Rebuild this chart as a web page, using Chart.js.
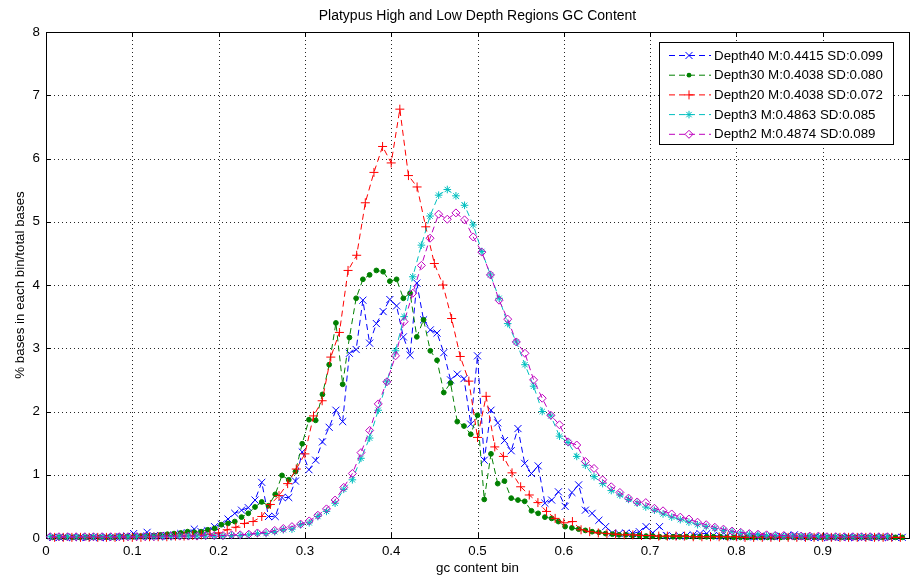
<!DOCTYPE html>
<html><head><meta charset="utf-8">
<script src="https://cdn.jsdelivr.net/npm/chart.js@4.4.1/dist/chart.umd.min.js"></script>
<style>html,body{margin:0;padding:0;overflow:hidden;background:#fff}canvas{display:block}</style>
</head><body>
<canvas id="c" width="915" height="581"></canvas>
<script>
// ---------- text ----------
const chartTitle = 'Platypus High and Low Depth Regions GC Content';
const xTitle = 'gc content bin';
const yTitle = '% bases in each bin/total bases';
const seriesNames = [
  'Depth40 M:0.4415 SD:0.099',
  'Depth30 M:0.4038 SD:0.080',
  'Depth20 M:0.4038 SD:0.072',
  'Depth3 M:0.4863 SD:0.085',
  'Depth2 M:0.4874 SD:0.089'
];
const xTicks = [0, 0.1, 0.2, 0.3, 0.4, 0.5, 0.6, 0.7, 0.8, 0.9, 1];
const yTicks = [0, 1, 2, 3, 4, 5, 6, 7, 8];

// ---------- bins ----------
const fineBinCount = 128;   // Depth40 / Depth30 bins: k/128
const coarseBinCount = 100; // Depth20: i/100 ; Depth3 / Depth2: (j+0.5)/100

// ---------- values (% bases) ----------
const depth40 = [
 0.01,0.01,0.01,0.01,0.01,0.01,0.01,0.01,0.01,0.01,
 0.02,0.03,0.07,0.03,0.09,0.03,0.04,0.03,0.05,0.07,
 0.08,0.14,0.10,0.12,0.18,0.22,0.30,0.39,0.44,0.48,
 0.60,0.88,0.34,0.34,0.64,0.64,0.90,1.36,1.08,1.23,
 1.52,1.75,2.02,1.84,2.92,2.98,3.76,3.08,3.39,3.58,
 3.77,3.67,3.18,2.89,4.03,3.45,3.29,3.24,2.93,2.50,
 2.59,2.52,1.80,2.88,1.23,2.02,1.82,1.54,1.38,1.73,
 1.18,1.02,1.14,0.55,0.60,0.73,0.50,0.72,0.84,0.44,
 0.39,0.28,0.18,0.08,0.07,0.08,0.07,0.10,0.18,0.08,
 0.18,0.04,0.03,0.03,0.04,0.05,0.07,0.07,0.04,0.03,
 0.03,0.02,0.03,0.02,0.02,0.03,0.02,0.02,0.03,0.04,
 0.05,0.02,0.01,0.01,0.01,0.01,0.01,0.01,0.01,0.01,
 0.01,0.01,0.01,0.01,0.01,0.01,0.01
];
const depth30 = [
 0.01,0.01,0.01,0.01,0.01,0.01,0.01,0.01,0.01,0.01,
 0.02,0.02,0.02,0.03,0.03,0.04,0.05,0.06,0.07,0.08,
 0.10,0.09,0.10,0.13,0.15,0.21,0.23,0.26,0.33,0.39,
 0.49,0.57,0.51,0.69,0.99,0.92,1.05,1.49,1.87,1.86,
 2.27,2.74,3.40,2.43,3.17,3.79,4.09,4.16,4.23,4.21,
 4.06,4.09,3.79,3.87,3.18,3.45,2.96,2.81,2.30,2.45,
 1.84,1.77,1.64,1.94,0.61,1.33,0.86,0.90,0.63,0.60,
 0.58,0.43,0.39,0.33,0.31,0.26,0.18,0.16,0.14,0.12,
 0.10,0.09,0.07,0.06,0.05,0.05,0.04,0.04,0.03,0.03,
 0.02,0.02,0.02,0.02,0.02,0.02,0.02,0.02,0.02,0.02,
 0.01,0.01,0.01,0.01,0.01,0.01,0.01,0.01,0.01,0.01,
 0.01,0.01,0.01,0.01,0.01,0.01,0.01,0.01,0.01,0.01,
 0.01,0.01,0.01,0.01,0.01,0.01,0.01
];
const depth20 = [
 0.01,0.01,0.01,0.01,0.01,0.01,0.01,0.01,0.01,0.01,
 0.01,0.02,0.02,0.02,0.03,0.03,0.04,0.05,0.06,0.08,
 0.13,0.17,0.23,0.26,0.34,0.53,0.67,0.86,1.09,1.33,
 1.93,2.17,2.86,3.25,4.23,4.47,5.30,5.78,6.19,5.93,
 6.78,5.73,5.55,4.92,4.34,4.00,3.47,2.87,2.48,1.59,
 2.24,1.44,1.29,1.03,0.81,0.68,0.56,0.42,0.31,0.24,
 0.26,0.13,0.10,0.08,0.07,0.06,0.05,0.05,0.04,0.04,
 0.03,0.03,0.03,0.03,0.02,0.02,0.02,0.02,0.02,0.02,
 0.01,0.01,0.01,0.01,0.01,0.01,0.01,0.01,0.01,0.01,
 0.01,0.01,0.01,0.01,0.01,0.01,0.01,0.01,0.01
];
const depth3 = [
 0.02,0.02,0.02,0.02,0.02,0.02,0.02,0.02,0.02,0.02,
 0.02,0.02,0.02,0.02,0.02,0.03,0.03,0.03,0.03,0.03,
 0.03,0.04,0.04,0.05,0.07,0.07,0.10,0.13,0.14,0.21,
 0.24,0.34,0.42,0.55,0.77,0.92,1.26,1.58,2.02,2.47,
 2.96,3.50,4.13,4.63,5.09,5.42,5.51,5.41,5.26,4.95,
 4.53,4.16,3.79,3.39,3.10,2.74,2.40,2.00,1.93,1.61,
 1.51,1.29,1.15,0.97,0.86,0.75,0.68,0.61,0.55,0.49,
 0.44,0.38,0.33,0.29,0.25,0.21,0.18,0.15,0.12,0.10,
 0.08,0.06,0.05,0.04,0.04,0.03,0.03,0.03,0.03,0.02,
 0.02,0.02,0.02,0.02,0.02,0.02,0.02,0.02
];
const depth2 = [
 0.02,0.02,0.02,0.02,0.02,0.02,0.02,0.02,0.02,0.02,
 0.02,0.02,0.02,0.03,0.03,0.03,0.03,0.03,0.04,0.04,
 0.04,0.05,0.05,0.06,0.08,0.09,0.12,0.15,0.18,0.22,
 0.27,0.36,0.46,0.60,0.80,1.02,1.35,1.70,2.12,2.47,
 2.88,3.42,3.87,4.31,4.74,5.12,5.04,5.14,5.03,4.76,
 4.52,4.16,3.76,3.46,3.10,2.92,2.50,2.21,1.94,1.79,
 1.52,1.47,1.21,1.10,0.92,0.81,0.72,0.63,0.57,0.56,
 0.47,0.43,0.38,0.33,0.30,0.25,0.21,0.17,0.14,0.11,
 0.09,0.07,0.06,0.05,0.04,0.04,0.03,0.03,0.03,0.03,
 0.02,0.02,0.02,0.02,0.02,0.02,0.02,0.02
];

// ---------- styling ----------
const FONT = '"Liberation Sans", Arial, Helvetica, sans-serif';
const FSIZE = 13.33;
const TITLE_SIZE = 14;
Chart.defaults.font.family = FONT;
Chart.defaults.font.size = FSIZE;
Chart.defaults.color = '#000';

const styles = [
  {color:'#0000ff', point:'crossRot', r:5,   filled:false},
  {color:'#008000', point:'circle',   r:2.4, filled:true},
  {color:'#ff0000', point:'cross',    r:4.5, filled:false},
  {color:'#00bfbf', point:'star',     r:3.8, filled:false},
  {color:'#bf00bf', point:'rectRot',  r:4,   filled:false}
];
const seriesValues = [depth40, depth30, depth20, depth3, depth2];
const xOf = [
  k => (k + 1) / fineBinCount,
  k => (k + 1) / fineBinCount,
  i => (i + 1) / coarseBinCount,
  j => (j + 0.5) / coarseBinCount,
  j => (j + 0.5) / coarseBinCount
];

const datasets = seriesValues.map((vals, s) => ({
  label: seriesNames[s],
  data: vals.map((v, i) => ({x: xOf[s](i), y: v})),
  borderColor: styles[s].color,
  backgroundColor: styles[s].color,
  borderWidth: 1,
  borderDash: [6, 4],
  pointStyle: styles[s].point,
  pointRadius: styles[s].r,
  pointHoverRadius: styles[s].r,
  pointBorderColor: styles[s].color,
  pointBackgroundColor: styles[s].filled ? styles[s].color : 'rgba(0,0,0,0)',
  pointBorderWidth: 1,
  tension: 0,
  fill: false,
  clip: false,
  order: 5 - s
}));

function drawMarker(ctx, st, x, y) {
  const r = st.r;
  ctx.save();
  ctx.setLineDash([]);
  ctx.lineWidth = 1;
  ctx.strokeStyle = st.color;
  ctx.fillStyle = st.color;
  ctx.beginPath();
  const d = r * Math.SQRT1_2;
  if (st.point === 'cross' || st.point === 'star') {
    ctx.moveTo(x - r, y); ctx.lineTo(x + r, y);
    ctx.moveTo(x, y - r); ctx.lineTo(x, y + r);
  }
  if (st.point === 'crossRot' || st.point === 'star') {
    ctx.moveTo(x - d, y - d); ctx.lineTo(x + d, y + d);
    ctx.moveTo(x - d, y + d); ctx.lineTo(x + d, y - d);
  }
  if (st.point === 'rectRot') {
    ctx.moveTo(x - r, y); ctx.lineTo(x, y - r); ctx.lineTo(x + r, y); ctx.lineTo(x, y + r); ctx.closePath();
  }
  if (st.point === 'circle') {
    ctx.arc(x, y, r, 0, Math.PI * 2); ctx.fill();
  } else {
    ctx.stroke();
  }
  ctx.restore();
}

const framePlugin = {
  id: 'matlabFrame',
  beforeDatasetsDraw(chart) {
    const {ctx, chartArea: a, scales: {x, y}} = chart;
    ctx.save();
    // dotted grid
    ctx.strokeStyle = 'rgba(0,0,0,0.85)';
    ctx.lineWidth = 1;
    ctx.setLineDash([1, 3]);
    xTicks.forEach(v => {
      if (v <= x.min || v >= x.max) return;
      const px = Math.round(x.getPixelForValue(v)) + 0.5;
      ctx.beginPath(); ctx.moveTo(px, a.top); ctx.lineTo(px, a.bottom); ctx.stroke();
    });
    yTicks.forEach(v => {
      if (v <= y.min || v >= y.max) return;
      const py = Math.round(y.getPixelForValue(v)) + 0.5;
      ctx.beginPath(); ctx.moveTo(a.left, py); ctx.lineTo(a.right, py); ctx.stroke();
    });
    // box
    ctx.setLineDash([]);
    ctx.strokeStyle = '#000';
    ctx.strokeRect(Math.round(a.left) + 0.5, Math.round(a.top) + 0.5,
                   Math.round(a.right - a.left), Math.round(a.bottom - a.top));
    // inward ticks on all sides
    const tl = 5;
    ctx.beginPath();
    xTicks.forEach(v => {
      const px = Math.round(x.getPixelForValue(v)) + 0.5;
      ctx.moveTo(px, a.bottom); ctx.lineTo(px, a.bottom - tl);
      ctx.moveTo(px, a.top); ctx.lineTo(px, a.top + tl);
    });
    yTicks.forEach(v => {
      const py = Math.round(y.getPixelForValue(v)) + 0.5;
      ctx.moveTo(a.left, py); ctx.lineTo(a.left + tl, py);
      ctx.moveTo(a.right, py); ctx.lineTo(a.right - tl, py);
    });
    ctx.stroke();
    ctx.restore();
  },
  afterDraw(chart) {
    const {ctx, chartArea: a} = chart;
    ctx.save();
    // title
    ctx.font = TITLE_SIZE + 'px ' + FONT;
    ctx.fillStyle = '#000';
    ctx.textAlign = 'center';
    ctx.textBaseline = 'middle';
    ctx.fillText(chartTitle, (a.left + a.right) / 2, 16);
    // legend
    ctx.font = FSIZE + 'px ' + FONT;
    const bx = 659.5, by = 42.5, bw = 234, bh = 102;
    ctx.fillStyle = '#fff';
    ctx.fillRect(bx, by, bw, bh);
    ctx.strokeStyle = '#000';
    ctx.lineWidth = 1;
    ctx.strokeRect(bx, by, bw, bh);
    ctx.textAlign = 'left';
    seriesNames.forEach((name, s) => {
      const st = styles[s];
      const ly = 55.5 + s * 19.7;
      ctx.save();
      ctx.strokeStyle = st.color;
      ctx.lineWidth = 1;
      ctx.setLineDash([6, 4]);
      ctx.beginPath(); ctx.moveTo(669, ly); ctx.lineTo(711, ly); ctx.stroke();
      ctx.restore();
      drawMarker(ctx, st, 689, ly);
      ctx.fillStyle = '#000';
      ctx.fillText(name, 714, ly + 0.5);
    });
    ctx.restore();
  }
};

new Chart(document.getElementById('c'), {
  type: 'line',
  data: {datasets},
  plugins: [framePlugin],
  options: {
    responsive: false,
    animation: false,
    devicePixelRatio: 1,
    layout: {padding: {top: 32, right: 2, left: 0, bottom: 0}},
    plugins: {legend: {display: false}, title: {display: false}, tooltip: {enabled: false}},
    scales: {
      x: {
        type: 'linear', min: 0, max: 1,
        afterBuildTicks: s => { s.ticks = xTicks.map(v => ({value: v})); },
        afterFit: s => { s.height = 43; },
        ticks: {autoSkip: false, maxRotation: 0, padding: 5, color: '#000',
                callback: v => (v >= 1 ? '' : String(v))},
        grid: {display: false, drawTicks: false},
        border: {display: false},
        title: {display: true, text: xTitle, color: '#000', padding: {top: 0, bottom: 5}}
      },
      y: {
        type: 'linear', min: 0, max: 8,
        afterBuildTicks: s => { s.ticks = yTicks.map(v => ({value: v})); },
        afterFit: s => { s.width = 46; },
        ticks: {autoSkip: false, padding: 6, color: '#000', callback: v => String(v)},
        grid: {display: false, drawTicks: false},
        border: {display: false},
        title: {display: true, text: yTitle, color: '#000', padding: {top: 12, bottom: 0}}
      }
    }
  }
});
</script>
</body></html>
